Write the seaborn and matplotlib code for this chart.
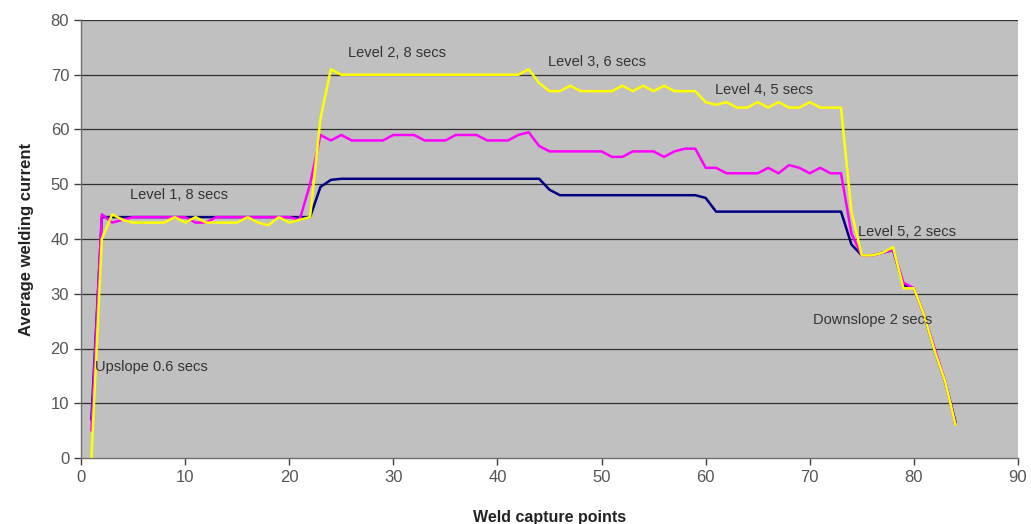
import numpy as np
import pandas as pd
import matplotlib
matplotlib.use("Agg")
import matplotlib.pyplot as plt
import seaborn as sns

# weld capture points 1..84
points = list(range(1, 85))

navy = [7, 44, 44, 44, 44, 44, 44, 44, 44, 44,
        44, 44, 44, 44, 44, 44, 44, 44, 44, 44,
        44, 44, 49.5, 50.8, 51, 51, 51, 51, 51, 51,
        51, 51, 51, 51, 51, 51, 51, 51, 51, 51,
        51, 51, 51, 51, 49, 48, 48, 48, 48, 48,
        48, 48, 48, 48, 48, 48, 48, 48, 48, 47.5,
        45, 45, 45, 45, 45, 45, 45, 45, 45, 45,
        45, 45, 45, 39, 37, 37, 37.5, 38, 31.5, 31,
        26, 19.5, 14, 6.5]

magenta = [5, 44.5, 43, 43.5, 44, 44, 44, 44, 44, 44,
           43, 43, 44, 44, 44, 44, 44, 44, 44, 44,
           43.5, 50, 59, 58, 59, 58, 58, 58, 58, 59,
           59, 59, 58, 58, 58, 59, 59, 59, 58, 58,
           58, 59, 59.5, 57, 56, 56, 56, 56, 56, 56,
           55, 55, 56, 56, 56, 55, 56, 56.5, 56.5, 53,
           53, 52, 52, 52, 52, 53, 52, 53.5, 53, 52,
           53, 52, 52, 41, 37, 37, 37.5, 38, 32, 31,
           26, 20, 14, 6]

yellow = [0, 40, 44.5, 43.5, 43, 43, 43, 43, 44, 43,
          44, 43, 43, 43, 43, 44, 43, 42.5, 44, 43,
          43.5, 44, 62, 71, 70, 70, 70, 70, 70, 70,
          70, 70, 70, 70, 70, 70, 70, 70, 70, 70,
          70, 70, 71, 68.5, 67, 67, 68, 67, 67, 67,
          67, 68, 67, 68, 67, 68, 67, 67, 67, 65,
          64.5, 65, 64, 64, 65, 64, 65, 64, 64, 65,
          64, 64, 64, 45, 37, 37, 37.5, 38.5, 31, 31,
          26, 19.5, 14, 6]

series_names = ["Series 1", "Series 2", "Series 3"]
series_colors = ["#000080", "#FF00FF", "#FFFF00"]

notes = ["Upslope 0.6 secs", "Level 1, 8 secs", "Level 2, 8 secs", "Level 3, 6 secs",
         "Level 4, 5 secs", "Level 5, 2 secs", "Downslope 2 secs"]
note_x = [1.35, 4.7, 25.6, 44.9, 60.9, 74.6, 70.3]
note_y = [16.7, 48, 73.9, 72.3, 67.2, 41.2, 25.2]

df = pd.DataFrame({
    "point": points * 3,
    "current": navy + magenta + yellow,
    "series": [s for s in series_names for _ in points],
})

sns.set_style("ticks", {"axes.facecolor": "#C0C0C0"})
plt.rcParams["font.family"] = ["Liberation Sans", "DejaVu Sans"]

fig = plt.figure(figsize=(10.31, 5.24), dpi=100)
ax = fig.add_axes([81 / 1031, 66 / 524, 937 / 1031, 438 / 524])

for yv in range(10, 90, 10):
    ax.axhline(yv, color="#303030", lw=0.9, zorder=1)

sns.lineplot(data=df, x="point", y="current", hue="series",
             palette=dict(zip(series_names, series_colors)),
             linewidth=1.8, legend=False, ax=ax, zorder=3,
             solid_joinstyle="round", solid_capstyle="round")

for t, tx, ty in zip(notes, note_x, note_y):
    ax.text(tx, ty, t, ha="left", va="center", fontsize=10.5, color="#333333", zorder=4)

ax.set_xlim(0, 90)
ax.set_ylim(0, 80)
ax.set_xticks(range(0, 91, 10))
ax.set_yticks(range(0, 81, 10))
ax.tick_params(axis="both", labelsize=12, labelcolor="#555555", color="#404040",
               length=5, width=1)
for side in ["top", "right"]:
    ax.spines[side].set_visible(False)
for side in ["left", "bottom"]:
    ax.spines[side].set_color("#707070")
    ax.spines[side].set_linewidth(1)

ax.set_xlabel("Weld capture points", fontsize=11.5, fontweight="bold", color="#222222", labelpad=18)
ax.set_ylabel("Average welding current", fontsize=12, fontweight="bold", color="#222222", labelpad=12)

fig.savefig("out.png", dpi=100, facecolor="white")
